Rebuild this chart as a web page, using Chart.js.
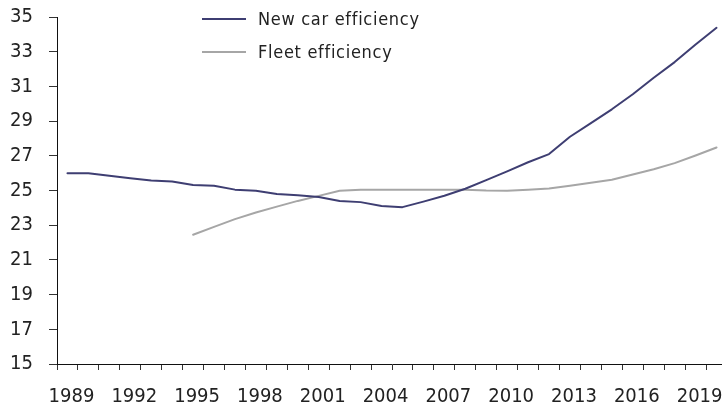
<!DOCTYPE html>
<html>
<head>
<meta charset="utf-8">
<script src="https://cdn.jsdelivr.net/npm/chart.js@4.4.1/dist/chart.umd.min.js"></script>
<style>
  html, body { margin: 0; padding: 0; background: #fff; overflow: hidden; width: 722px; height: 409px; }
  canvas { display: block; }
</style>
</head>
<body>
<canvas id="c" width="727" height="409"></canvas>
<script>
const years = ["1989","1990","1991","1992","1993","1994","1995","1996","1997","1998","1999","2000","2001","2002","2003","2004","2005","2006","2007","2008","2009","2010","2011","2012","2013","2014","2015","2016","2017","2018","2019","2020"];
const newCarEfficiency = [26.0, 26.0, 25.85, 25.7, 25.57, 25.52, 25.32, 25.27, 25.05, 24.98, 24.8, 24.73, 24.62, 24.4, 24.33, 24.11, 24.04, 24.36, 24.7, 25.1, 25.6, 26.1, 26.63, 27.1, 28.1, 28.88, 29.68, 30.55, 31.5, 32.4, 33.42, 34.38];
const fleetEfficiency = [null, null, null, null, null, null, 22.45, 22.9, 23.35, 23.73, 24.07, 24.4, 24.69, 24.98, 25.05, 25.05, 25.05, 25.05, 25.05, 25.05, 25.0, 24.98, 25.05, 25.12, 25.28, 25.44, 25.62, 25.92, 26.22, 26.58, 27.02, 27.48];
const seriesNames = ["New car efficiency", "Fleet efficiency"];
const seriesColors = ["#3e3e72", "#a6a6a6"];

const FONT = '"DejaVu Sans Condensed", "Liberation Sans", sans-serif';

const legendPlugin = {
  id: 'customLegend',
  afterDraw(chart) {
    const ctx = chart.ctx;
    ctx.save();
    chart.data.datasets.forEach((ds, i) => {
      const y = 19 + i * 33;
      ctx.strokeStyle = ds.borderColor;
      ctx.lineWidth = 2;
      ctx.beginPath();
      ctx.moveTo(202, y);
      ctx.lineTo(246, y);
      ctx.stroke();
      ctx.fillStyle = '#222';
      ctx.font = '18px ' + FONT;
      if ('letterSpacing' in ctx) ctx.letterSpacing = '0.7px';
      ctx.textBaseline = 'middle';
      ctx.textAlign = 'left';
      ctx.fillText(ds.label, 258, y + 1);
    });
    ctx.restore();
  }
};

new Chart(document.getElementById('c'), {
  type: 'line',
  data: {
    labels: years,
    datasets: [
      { label: seriesNames[0], data: newCarEfficiency, borderColor: seriesColors[0], backgroundColor: seriesColors[0] },
      { label: seriesNames[1], data: fleetEfficiency, borderColor: seriesColors[1], backgroundColor: seriesColors[1] }
    ]
  },
  options: {
    responsive: false,
    animation: false,
    devicePixelRatio: 1,
    layout: { padding: { top: 17, left: 0, right: 0, bottom: 0 } },
    elements: {
      point: { radius: 0 },
      line: { tension: 0, borderWidth: 2, borderCapStyle: 'round', borderJoinStyle: 'round' }
    },
    plugins: { legend: { display: false }, tooltip: { enabled: false } },
    scales: {
      x: {
        type: 'category',
        offset: true,
        grid: { offset: true, drawOnChartArea: false, drawTicks: true, tickLength: 6, color: '#333' },
        border: { display: true, color: '#111', width: 1 },
        ticks: {
          autoSkip: false,
          maxRotation: 0,
          minRotation: 0,
          labelOffset: 4,
          padding: 15,
          color: '#222',
          font: { family: FONT, size: 20 },
          callback: function(v, i) { return i % 3 === 0 ? this.getLabelForValue(v) : ''; }
        },
        afterFit(scale) { scale.height = 45; scale.paddingLeft = 0; scale.paddingRight = 0; }
      },
      y: {
        min: 15,
        max: 35,
        grid: { drawOnChartArea: false, drawTicks: true, tickLength: 8, color: '#333' },
        border: { display: true, color: '#111', width: 1 },
        ticks: {
          stepSize: 2,
          padding: 16,
          color: '#222',
          font: { family: FONT, size: 20 }
        },
        afterFit(scale) { scale.width = 57; scale.paddingTop = 0; scale.paddingBottom = 0; }
      }
    }
  },
  plugins: [legendPlugin]
});
</script>
</body>
</html>
